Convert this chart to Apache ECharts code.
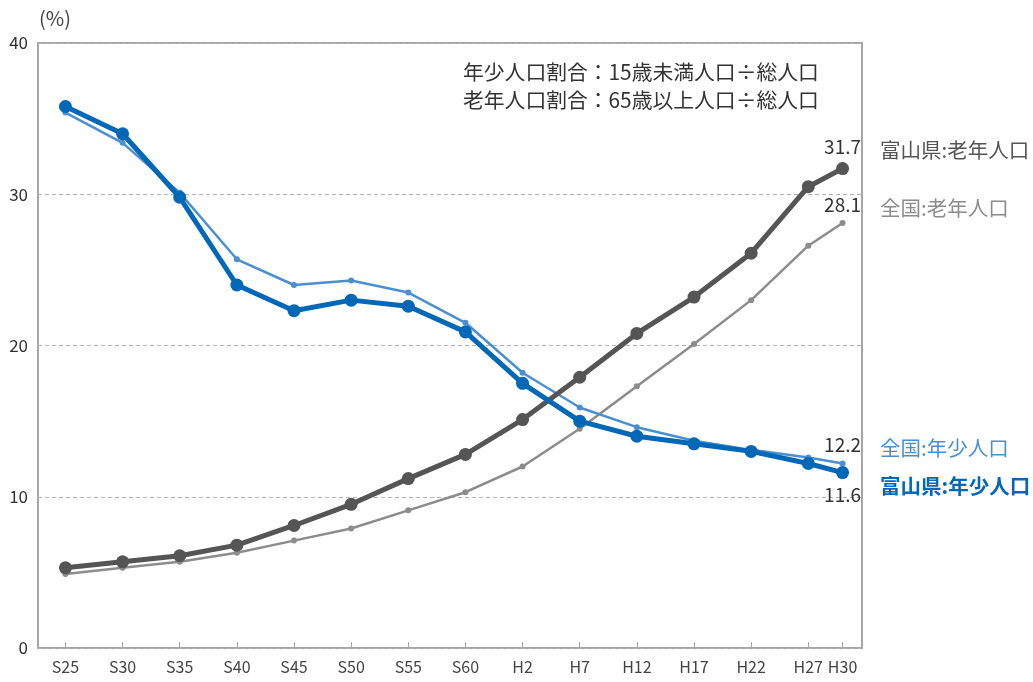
<!DOCTYPE html>
<html>
<head>
<meta charset="utf-8">
<script src="https://cdn.jsdelivr.net/npm/echarts@6/dist/echarts.min.js"></script>
<style>
  html, body { margin: 0; padding: 0; background: #fff; }
  #chart { width: 1033px; height: 682px; }
</style>
</head>
<body>
<div id="chart"></div>
<script>
// Survey years (western calendar) and their era labels
const years = [1950, 1955, 1960, 1965, 1970, 1975, 1980, 1985, 1990, 1995, 2000, 2005, 2010, 2015, 2018];
const yearLabels = ['S25', 'S30', 'S35', 'S40', 'S45', 'S50', 'S55', 'S60', 'H2', 'H7', 'H12', 'H17', 'H22', 'H27', 'H30'];

// Population share (%)
const toyamaYoung = [35.8, 34.0, 29.8, 24.0, 22.3, 23.0, 22.6, 20.9, 17.5, 15.0, 14.0, 13.5, 13.0, 12.2, 11.6];
const nationYoung = [35.4, 33.4, 30.1, 25.7, 24.0, 24.3, 23.5, 21.5, 18.2, 15.9, 14.6, 13.7, 13.1, 12.6, 12.2];
const toyamaOld   = [5.3, 5.7, 6.1, 6.8, 8.1, 9.5, 11.2, 12.8, 15.1, 17.9, 20.8, 23.2, 26.1, 30.5, 31.7];
const nationOld   = [4.9, 5.3, 5.7, 6.3, 7.1, 7.9, 9.1, 10.3, 12.0, 14.5, 17.3, 20.1, 23.0, 26.6, 28.1];

const yTicks = [0, 10, 20, 30, 40];

const CJK = '"Noto Sans CJK JP", "Noto Sans", sans-serif';

// Pair each value with its year; the final point carries the value label
function toData(values, labelPos) {
  return values.map((v, i) => {
    const item = { value: [years[i], v] };
    if (i === values.length - 1) {
      item.label = {
        show: true,
        position: labelPos,
        distance: 6,
        color: '#333',
        fontSize: 19,
        fontFamily: CJK,
        formatter: (p) => p.value[1].toFixed(1)
      };
    }
    return item;
  });
}

function lineSeries(name, values, color, width, symbolSize, labelPos, z) {
  return {
    name: name,
    type: 'line',
    data: toData(values, labelPos),
    symbol: 'circle',
    symbolSize: symbolSize,
    lineStyle: { color: color, width: width },
    itemStyle: { color: color },
    z: z,
    animation: false
  };
}

const chart = echarts.init(document.getElementById('chart'), null, { renderer: 'canvas' });

chart.setOption({
  backgroundColor: '#fff',
  animation: false,
  grid: {
    left: 38, right: 171, top: 43, bottom: 34,
    show: true,
    borderColor: '#a6a6a6',
    borderWidth: 2,
    backgroundColor: 'transparent'
  },
  xAxis: {
    type: 'value',
    min: 1947.6,
    max: 2019.7,
    axisLine: { show: false },
    splitLine: { show: false },
    axisTick: {
      show: true,
      inside: true,
      length: 6,
      customValues: years,
      lineStyle: { color: '#a6a6a6', width: 1 }
    },
    axisLabel: {
      customValues: years,
      margin: 11,
      color: '#444',
      fontSize: 16,
      fontFamily: CJK,
      formatter: (v) => yearLabels[years.indexOf(Math.round(v))] || ''
    }
  },
  yAxis: {
    type: 'value',
    min: yTicks[0],
    max: yTicks[yTicks.length - 1],
    interval: 10,
    axisLine: { show: false },
    axisTick: { show: false },
    axisLabel: { color: '#333', fontSize: 17, fontFamily: CJK, margin: 10 },
    splitLine: { show: true, lineStyle: { color: '#b3b3b3', type: [4, 3], width: 1 } }
  },
  series: [
    lineSeries('全国:老年人口', nationOld, '#8c8c8c', 2.5, 6, 'top', 2),
    lineSeries('全国:年少人口', nationYoung, '#4a8fd2', 2.5, 6, 'top', 2),
    lineSeries('富山県:老年人口', toyamaOld, '#555555', 5, 13, 'top', 3),
    lineSeries('富山県:年少人口', toyamaYoung, '#0068b7', 5, 13, 'bottom', 4)
  ],
  graphic: [
    {
      // unit caption above the value axis
      type: 'text', left: 39, top: 8,
      style: { text: '(%)', fill: '#444', fontSize: 20, fontFamily: CJK }
    },
    {
      type: 'text', left: 463, top: 62,
      style: { text: '年少人口割合：15歳未満人口÷総人口', fill: '#333', fontSize: 20.8, fontFamily: CJK }
    },
    {
      type: 'text', left: 463, top: 90,
      style: { text: '老年人口割合：65歳以上人口÷総人口', fill: '#333', fontSize: 20.8, fontFamily: CJK }
    },
    {
      type: 'text', left: 880, top: 140,
      style: { text: '富山県:老年人口', fill: '#555555', fontSize: 20.5, fontFamily: CJK }
    },
    {
      type: 'text', left: 880, top: 198,
      style: { text: '全国:老年人口', fill: '#8c8c8c', fontSize: 20.5, fontFamily: CJK }
    },
    {
      type: 'text', left: 880, top: 438,
      style: { text: '全国:年少人口', fill: '#4a8fd2', fontSize: 20.5, fontFamily: CJK }
    },
    {
      type: 'text', left: 880, top: 476,
      style: { text: '富山県:年少人口', fill: '#0068b7', fontSize: 20.5, fontWeight: 'bold', fontFamily: CJK }
    }
  ]
});
</script>
</body>
</html>
